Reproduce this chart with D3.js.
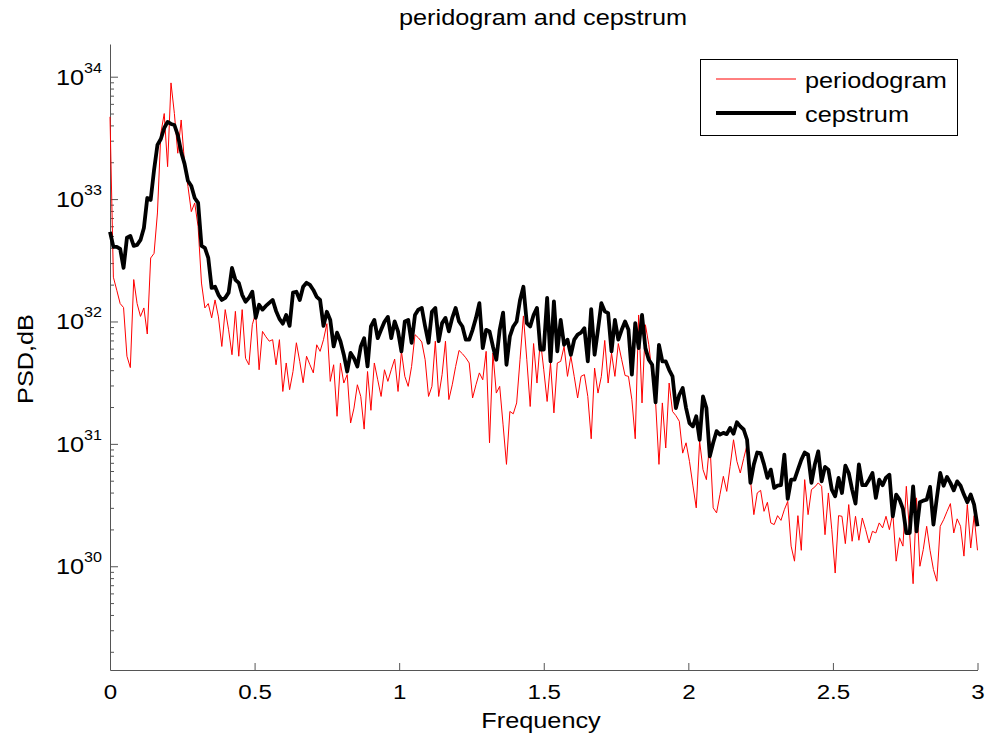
<!DOCTYPE html>
<html><head><meta charset="utf-8">
<script src="https://cdn.jsdelivr.net/npm/d3@7"></script>
<style>body{margin:0;background:#fff} svg{display:block} text{font-family:"Liberation Sans",Arial,Helvetica,sans-serif;}</style>
</head><body>
<svg id="chart" width="990" height="740"></svg>
<script>
// ---- data ----
const titleText = "peridogram and cepstrum";
const xLabelText = "Frequency";
const yLabelText = "PSD,dB";
const seriesNames = ["periodogram", "cepstrum"];
const xTickValues = [0, 0.5, 1, 1.5, 2, 2.5, 3];
const xTickLabels = ["0", "0.5", "1", "1.5", "2", "2.5", "3"];
const yTickExponents = [30, 31, 32, 33, 34];
const freqMax = 3;

const periodogram = [
4.7e33, 2.3e32, 1.8e32, 1.4e32, 1.3e32, 5.2e31, 4.2e31, 2.2e32, 1.4e32, 1.1e32,
1.29e32, 7.9e31, 3.3e32, 3.6e32, 7.7e32, 3.45e33, 5.0e33, 1.84e33, 8.9e33, 5.0e33,
2.37e33, 4.43e33, 1.96e33, 1.27e33, 7.9e32, 9.3e32, 5.96e32, 2.06e32, 1.29e32, 1.4e32,
1.07e32, 1.5e32, 1.09e32, 6.25e31, 1.25e32, 8.55e31, 5.35e31, 1.21e32, 5.2e31, 1.25e32,
5.0e31, 4.43e31, 9.4e31, 1.18e32, 4.03e31, 8.3e31, 7.5e31, 6.9e31, 7.1e31, 4.43e31,
7.1e31, 2.68e31, 4.58e31, 2.77e31, 3.9e31, 6.7e31, 4.7e31, 3.16e31, 5.2e31, 4.43e31,
3.8e31, 6.45e31, 5.7e31, 7.1e31, 9.6e31, 3.24e31, 4.43e31, 1.68e31, 4.58e31, 3.14e31,
3.68e31, 1.48e31, 1.96e31, 3.04e31, 2.44e31, 1.32e31, 3.9e31, 1.88e31, 4.58e31, 3.34e31,
2.44e31, 4.03e31, 3.24e31, 4.03e31, 4.93e31, 2.68e31, 5.7e31, 3.56e31, 2.95e31, 4.29e31,
7.8e31, 7.36e31, 6.8e31, 4.87e31, 2.44e31, 2.95e31, 6.9e31, 2.44e31, 3.68e31, 6.9e31,
2.3e31, 3.04e31, 4.29e31, 5.8e31, 5.45e31, 5.05e31, 4.58e31, 2.37e31, 3.04e31, 3.8e31,
3.34e31, 5.7e31, 1.02e31, 5.53e31, 2.6e31, 2.95e31, 1.43e31, 6.8e30, 1.84e31, 1.76e31,
2.16e31, 4.87e31, 1.11e32, 4.87e31, 2.02e31, 6.6e31, 3.14e31, 7.1e31, 4.03e31, 2.22e31,
4.58e31, 1.79e31, 4.58e31, 4.72e31, 6.25e31, 3.56e31, 5.2e31, 3.54e31, 2.37e31, 3.56e31,
3.68e31, 2.44e31, 1.1e31, 4.16e31, 2.6e31, 3.56e31, 7.0e31, 3.14e31, 5.53e31, 3.56e31,
6.6e31, 4.87e31, 3.62e31, 3.56e31, 2.3e31, 1.1e31, 1.13e32, 2.16e31, 9.4e31, 6.45e31,
3.68e31, 2.22e31, 6.8e30, 2.16e31, 9.25e30, 3.14e31, 1.84e31, 1.7e31, 1.53e31, 8.4e30,
1.02e31, 7.2e30, 4.6e30, 3.0e30, 1.05e31, 6.16e30, 5.1e30, 1.05e31, 3.0e30, 2.73e30,
3.85e30, 5.43e30, 4.09e30, 6.55e30, 1.08e31, 7.2e30, 5.78e30, 7.6e30, 9.8e30, 5.1e30,
2.64e30, 3.97e30, 4.17e30, 2.81e30, 3.33e30, 2.26e30, 2.19e30, 2.59e30, 2.37e30, 2.9e30,
3.39e30, 1.46e30, 1.1e30, 2.59e30, 1.35e30, 5.1e30, 2.64e30, 4.23e30, 4.45e30, 4.8e30,
4.5e30, 1.81e30, 3.97e30, 1.99e30, 8.8e29, 2.59e30, 2.56e30, 1.53e30, 3.19e30, 1.6e30,
2.56e30, 1.63e30, 2.48e30, 1.99e30, 1.55e30, 1.93e30, 1.87e30, 2.26e30, 2.06e30, 2.56e30,
1.99e30, 2.73e30, 1.1e30, 1.71e30, 1.46e30, 4.5e30, 1.81e30, 7.2e29, 3.62e30, 1.0e30,
1.37e30, 2.12e30, 1.35e30, 9.4e29, 7.55e29, 2.12e30, 2.4e30, 2.8e30, 3.25e30, 1.87e30,
2.44e30, 2.12e30, 1.21e30, 3.19e30, 1.41e30, 2.59e30, 1.35e30
];

const cepstrum = [
5.4e32, 4.07e32, 4.07e32, 3.92e32, 2.74e32, 4.83e32, 5.0e32, 4.15e32, 4.23e32, 4.64e32,
5.8e32, 1.02e33, 9.85e32, 1.73e33, 2.77e33, 3.1e33, 3.81e33, 4.27e33, 4.11e33, 4.03e33,
3.34e33, 2.43e33, 1.94e33, 1.41e33, 1.28e33, 1.02e33, 9.3e32, 4.15e32, 4.0e32, 3.31e32,
1.88e32, 1.92e32, 1.65e32, 1.5e32, 1.56e32, 1.72e32, 2.74e32, 2.19e32, 2.07e32, 1.65e32,
1.45e32, 1.56e32, 1.75e32, 1.07e32, 1.37e32, 1.25e32, 1.34e32, 1.42e32, 1.5e32, 1.22e32,
1.05e32, 9.6e31, 1.13e32, 9.2e31, 1.72e32, 1.75e32, 1.5e32, 1.92e32, 2.07e32, 1.99e32,
1.81e32, 1.59e32, 1.5e32, 9.2e31, 1.2e32, 1.03e32, 6.25e31, 8.1e31, 6.9e31, 5.35e31,
3.9e31, 5.53e31, 5.0e31, 4.29e31, 6.25e31, 7.3e31, 4.29e31, 9.1e31, 1.03e32, 7.3e31,
8.55e31, 9.95e31, 1.09e32, 7.3e31, 1.0e32, 8.3e31, 5.7e31, 1.0e32, 1.03e32, 6.7e31,
1.13e32, 1.25e32, 1.29e32, 9.1e31, 6.7e31, 1.2e32, 1.29e32, 6.9e31, 9.7e31, 1.07e32,
8.3e31, 1.07e32, 1.29e32, 1.0e32, 9.1e31, 7.1e31, 7.1e31, 8.55e31, 1.07e32, 1.41e32,
6.06e31, 8.55e31, 8.3e31, 6.25e31, 4.87e31, 8.55e31, 1.18e32, 4.43e31, 7.55e31, 9.1e31,
1.0e32, 1.5e32, 1.92e32, 9.7e31, 9.1e31, 1.13e32, 1.29e32, 5.88e31, 5.88e31, 1.56e32,
4.72e31, 1.46e32, 5.7e31, 1.03e32, 6.45e31, 7.1e31, 5.35e31, 7.1e31, 7.8e31, 8.1e31,
8.8e31, 4.72e31, 1.26e32, 5.35e31, 8.55e31, 1.41e32, 1.21e32, 1.17e32, 5.7e31, 1.03e32,
7.1e31, 8.55e31, 1.0e32, 8.55e31, 3.68e31, 9.7e31, 6.06e31, 1.13e32, 6.06e31, 4.87e31,
4.43e31, 2.18e31, 6.45e31, 4.72e31, 4.72e31, 4.03e31, 3.56e31, 1.96e31, 2.52e31, 2.86e31,
1.96e31, 1.48e31, 1.39e31, 1.68e31, 1.08e31, 2.44e31, 1.96e31, 7.9e30, 1.02e31, 1.27e31,
1.19e31, 1.23e31, 1.2e31, 1.35e31, 1.21e31, 1.5e31, 1.39e31, 1.31e31, 1.08e31, 4.8e30,
6.8e30, 8.5e30, 8.4e30, 6.8e30, 5.27e30, 6.16e30, 4.37e30, 4.55e30, 4.6e30, 8.16e30,
3.55e30, 5.1e30, 5.1e30, 6.16e30, 7.4e30, 8.5e30, 8.16e30, 4.8e30, 6.8e30, 8.68e30,
4.94e30, 6.48e30, 6.16e30, 4.23e30, 3.73e30, 5.27e30, 3.97e30, 6.64e30, 5.78e30, 4.23e30,
3.25e30, 6.8e30, 4.6e30, 4.6e30, 5.1e30, 5.78e30, 3.62e30, 5.1e30, 4.6e30, 5.3e30,
5.6e30, 2.56e30, 3.85e30, 3.5e30, 2.94e30, 1.87e30, 1.87e30, 4.5e30, 1.93e30, 3.33e30,
3.44e30, 3.5e30, 4.45e30, 2.19e30, 3.62e30, 5.78e30, 4.55e30, 5.37e30, 4.8e30, 4.17e30,
4.94e30, 4.55e30, 3.85e30, 3.33e30, 3.85e30, 3.19e30, 2.12e30
];

// frequency bins (uniform FFT grid from 0 to 3)
const frequencies = d3.range(periodogram.length).map(i => i * freqMax / (periodogram.length - 1));

// ---- layout ----
const svg = d3.select("#chart");
const plot = {left: 110, right: 977.5, top: 44, bottom: 670};
const x = d3.scaleLinear().domain([0, 3]).range([plot.left, plot.right]);
const y = d3.scaleLog().domain([1.42e29, 1.85e34]).range([plot.bottom, plot.top]);
const axisColor = "#555";
const stretch = 1.15; // reference text is rendered slightly wide

function wideText(parent, tx, ty, size, anchor, str, rot) {
  const g = parent.append("g")
    .attr("transform", `translate(${tx},${ty})` + (rot ? ` rotate(${rot})` : "") + ` scale(${stretch},1)`);
  return g.append("text").attr("text-anchor", anchor).attr("font-size", size).attr("fill", "#000").text(str);
}

// x axis
const xAxis = d3.axisBottom(x).tickValues(xTickValues)
  .tickFormat((d, i) => xTickLabels[i]).tickSizeInner(-7).tickSizeOuter(0).tickPadding(14);
const gx = svg.append("g").attr("transform", `translate(0,${plot.bottom})`).call(xAxis);
gx.select(".domain").attr("stroke", axisColor);
gx.selectAll(".tick line").attr("stroke", axisColor);
gx.selectAll(".tick text").attr("fill", "#000").attr("font-size", 21)
  .attr("font-family", "Liberation Sans, Arial, sans-serif")
  .attr("transform", `scale(${stretch},1)`);

// y axis: majors + minors (inward ticks)
const majorVals = yTickExponents.map(e => Math.pow(10, e));
const minorVals = [];
for (let e = 29; e <= 34; e++) for (let m = 2; m <= 9; m++) {
  const v = m * Math.pow(10, e);
  if (v > y.domain()[0] && v < y.domain()[1]) minorVals.push(v);
}
const yAxis = d3.axisLeft(y).tickValues(majorVals).tickFormat(() => "").tickSizeInner(-8).tickSizeOuter(0);
const gy = svg.append("g").attr("transform", `translate(${plot.left},0)`).call(yAxis);
gy.select(".domain").attr("stroke", axisColor);
gy.selectAll(".tick line").attr("stroke", axisColor);
const yMinor = d3.axisLeft(y).tickValues(minorVals).tickFormat(() => "").tickSizeInner(-4).tickSizeOuter(0);
const gym = svg.append("g").attr("transform", `translate(${plot.left},0)`).call(yMinor);
gym.select(".domain").remove();
gym.selectAll(".tick line").attr("stroke", axisColor);

// y tick labels 10^n
yTickExponents.forEach(e => {
  const t = wideText(svg, 102, y(Math.pow(10, e)) + 8, 22, "end", null);
  t.append("tspan").text("10");
  t.append("tspan").attr("font-size", 14).attr("dy", -12).text(String(e));
});

// lines
const line = d3.line().x((d, i) => x(frequencies[i])).y(d => y(d));
svg.append("path").datum(periodogram).attr("d", line)
  .attr("fill", "none").attr("stroke", "#ff0000").attr("stroke-width", 1);
svg.append("path").datum(cepstrum).attr("d", line)
  .attr("fill", "none").attr("stroke", "#000").attr("stroke-width", 3.8).attr("stroke-linejoin", "round");

// title and labels
wideText(svg, 543, 25, 22, "middle", titleText);
wideText(svg, 541, 728, 22, "middle", xLabelText);
wideText(svg, 33, 359, 22, "middle", yLabelText, -90);

// legend
const lg = svg.append("g");
lg.append("rect").attr("x", 700.5).attr("y", 59.5).attr("width", 257).attr("height", 76)
  .attr("fill", "#fff").attr("stroke", "#000").attr("stroke-width", 1);
const legendItems = [
  {name: seriesNames[0], color: "#ff0000", width: 1, yy: 79},
  {name: seriesNames[1], color: "#000", width: 3.8, yy: 113}
];
legendItems.forEach(it => {
  lg.append("line").attr("x1", 716).attr("x2", 796).attr("y1", it.yy).attr("y2", it.yy)
    .attr("stroke", it.color).attr("stroke-width", it.width);
  wideText(lg, 805, it.yy + 9, 22, "start", it.name);
});
</script>
</body></html>
